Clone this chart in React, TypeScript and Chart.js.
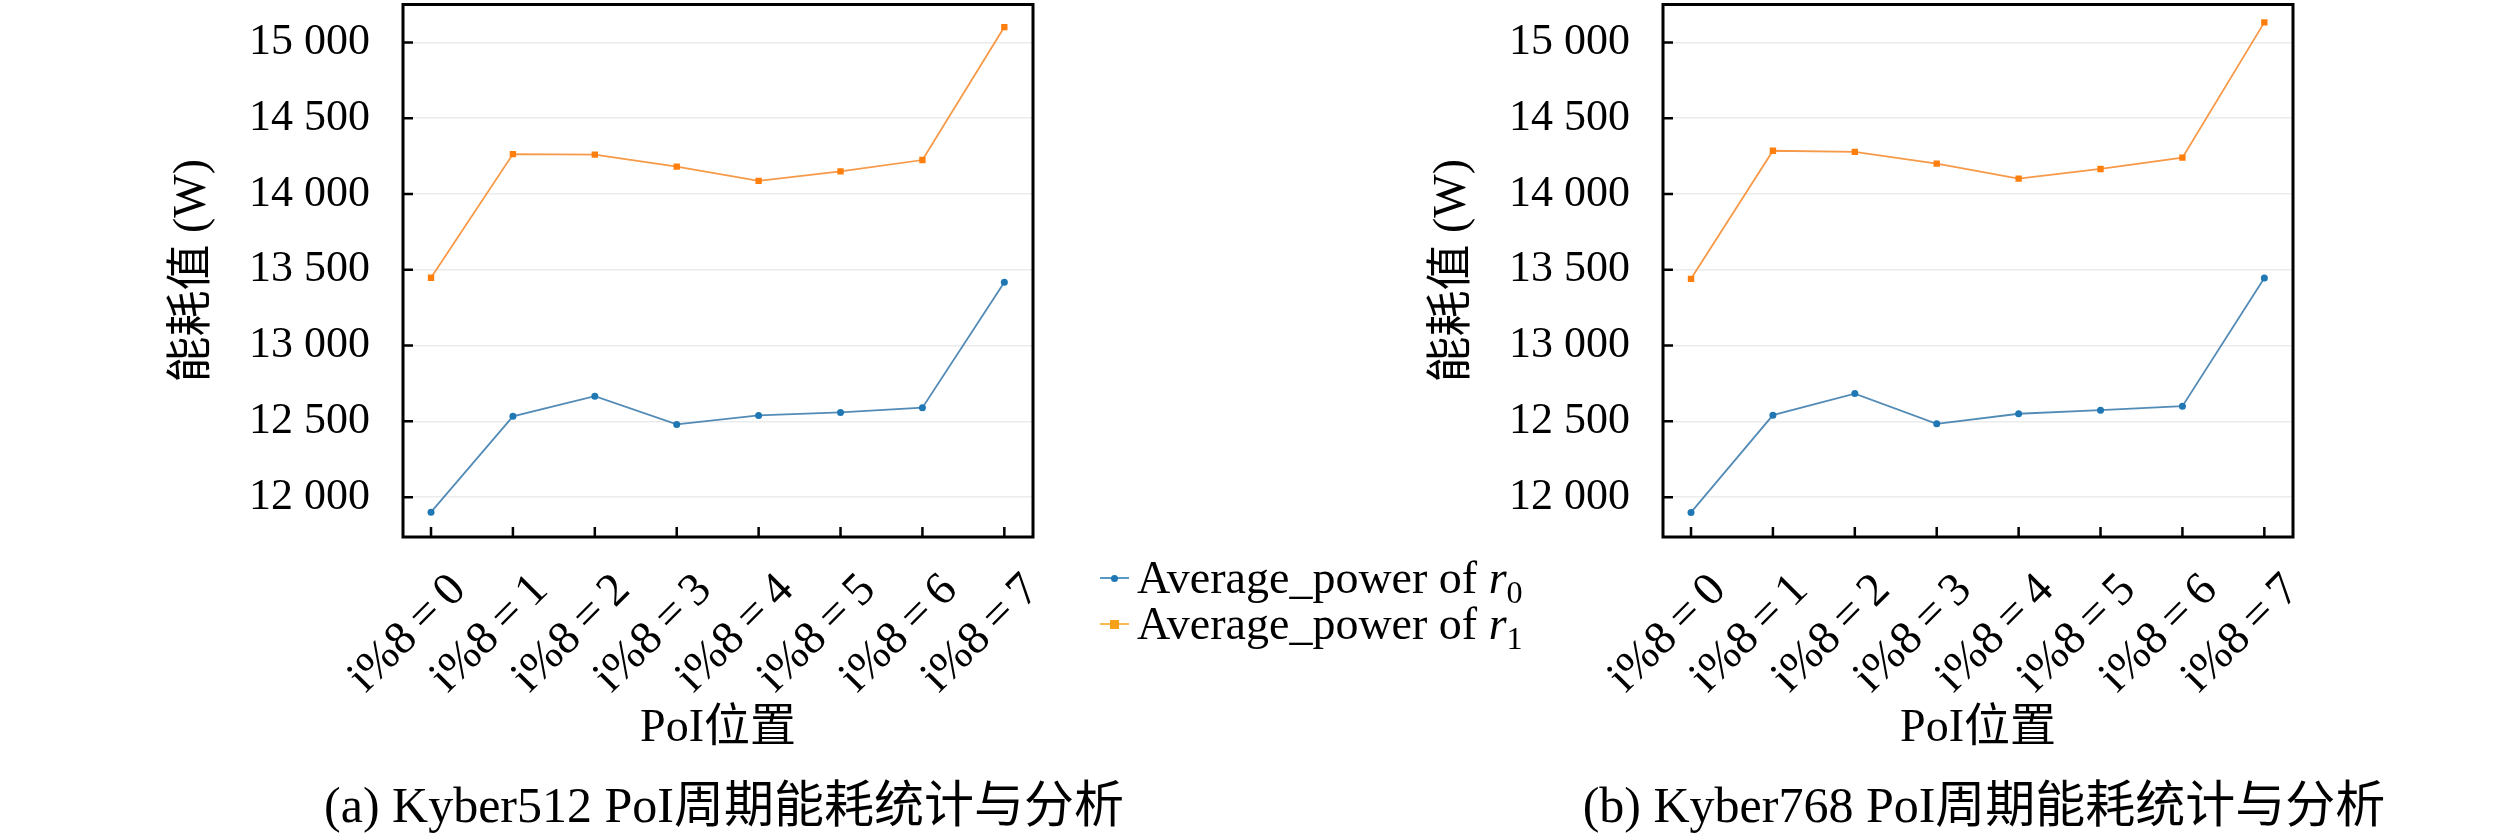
import { useEffect, useRef } from "react";
import { Chart, registerables } from "chart.js";

Chart.register(...registerables);

const categories = ["i%8\u2009=\u20090", "i%8\u2009=\u20091", "i%8\u2009=\u20092", "i%8\u2009=\u20093", "i%8\u2009=\u20094", "i%8\u2009=\u20095", "i%8\u2009=\u20096", "i%8\u2009=\u20097"];
const yTicks = [12000, 12500, 13000, 13500, 14000, 14500, 15000];
const yTickLabels = ["12 000", "12 500", "13 000", "13 500", "14 000", "14 500", "15 000"];
const seriesNames = ["Average_power of r0", "Average_power of r1"];

const kyber512R0 = [11901, 12533, 12666, 12480, 12539, 12559, 12590, 13417];
const kyber512R1 = [13447, 14263, 14260, 14180, 14086, 14149, 14224, 15101];
const kyber768R0 = [11899, 12541, 12683, 12484, 12550, 12574, 12600, 13445];
const kyber768R1 = [13440, 14285, 14278, 14200, 14101, 14165, 14240, 15132];

const FONT = "'Liberation Serif', 'Noto Sans CJK SC', serif";
const BLUE = "#1f77b4";
const ORANGE = "#ff7f0e";

// inward ticks + black frame around the plot area
const framePlugin = {
  id: "frame",
  afterDraw(chart: any) {
    const { ctx, chartArea: a, scales } = chart;
    ctx.save();
    ctx.strokeStyle = "#000";
    ctx.lineWidth = 2.5;
    ctx.beginPath();
    scales.y.ticks.forEach((t: any) => {
      const py = scales.y.getPixelForValue(t.value);
      ctx.moveTo(a.left, py);
      ctx.lineTo(a.left + 10, py);
    });
    scales.x.ticks.forEach((t: any) => {
      const px = scales.x.getPixelForValue(t.value);
      ctx.moveTo(px, a.bottom);
      ctx.lineTo(px, a.bottom - 10);
    });
    ctx.stroke();
    ctx.lineWidth = 3;
    ctx.strokeRect(a.left, a.top, a.right - a.left, a.bottom - a.top);
    ctx.restore();
  },
};

function Panel({ r0, r1, left }: { r0: number[]; r1: number[]; left: number }) {
  const canvasRef = useRef<HTMLCanvasElement>(null);

  useEffect(() => {
    if (!canvasRef.current) return;
    const chart = new Chart(canvasRef.current, {
      type: "line",
      data: {
        datasets: [
          {
            label: seriesNames[0],
            data: r0.map((v, i) => ({ x: i, y: v })),
            borderColor: "rgba(40,110,165,0.8)",
            backgroundColor: BLUE,
            borderWidth: 1.8,
            pointStyle: "circle",
            pointRadius: 3.5,
            pointBorderWidth: 0,
          },
          {
            label: seriesNames[1],
            data: r1.map((v, i) => ({ x: i, y: v })),
            borderColor: "rgba(245,135,40,0.85)",
            backgroundColor: ORANGE,
            borderWidth: 1.8,
            pointStyle: "rect",
            pointRadius: 4.5,
            pointBorderWidth: 0,
          },
        ],
      },
      options: {
        animation: false,
        responsive: true,
        maintainAspectRatio: false,
        layout: { padding: { left: 165, top: 3, right: 227, bottom: 3 } },
        plugins: { legend: { display: false }, tooltip: { enabled: false } },
        scales: {
          x: {
            type: "linear",
            min: -0.342,
            max: 7.35,
            grid: { display: false, drawTicks: false },
            border: { display: false },
            afterBuildTicks: (s: any) => {
              s.ticks = categories.map((_, i) => ({ value: i }));
            },
            afterFit: (s: any) => {
              s.height = 220;
              s.paddingLeft = 0;
              s.paddingRight = 0;
              s.paddingTop = 0;
              s.paddingBottom = 0;
            },
            ticks: {
              autoSkip: false,
              minRotation: 45,
              maxRotation: 45,
              padding: 26,
              labelOffset: 28,
              color: "#000",
              font: { family: FONT, size: 47 },
              callback: (v: any) => categories[v],
            },
            title: {
              display: true,
              text: "PoI位置",
              color: "#000",
              padding: 0,
              font: { family: FONT, size: 46, lineHeight: 1.2 },
            },
          },
          y: {
            min: 11737,
            max: 15250,
            grid: { color: "#ebebeb", lineWidth: 1.5, drawTicks: false },
            border: { display: false },
            afterBuildTicks: (s: any) => {
              s.ticks = yTicks.map((v) => ({ value: v }));
            },
            afterFit: (s: any) => {
              s.width = 238;
              s.paddingLeft = 0;
              s.paddingRight = 0;
              s.paddingTop = 0;
              s.paddingBottom = 0;
            },
            ticks: {
              padding: 33,
              color: "#000",
              font: { family: FONT, size: 44 },
              callback: (v: any) => yTickLabels[yTicks.indexOf(v)],
            },
            title: {
              display: true,
              text: "能耗值 (W)",
              color: "#000",
              padding: 0,
              font: { family: FONT, size: 46, lineHeight: 1.2 },
            },
          },
        },
      },
      plugins: [framePlugin],
    });
    return () => chart.destroy();
  }, [r0, r1]);

  return (
    <div style={{ position: "absolute", left, top: 0, width: 1260, height: 760 }}>
      <canvas ref={canvasRef} />
    </div>
  );
}

function LegendRow({ color, square, sub }: { color: string; square: boolean; sub: string }) {
  return (
    <div style={{ display: "flex", alignItems: "center", height: 46 }}>
      <div style={{ position: "relative", width: 29, height: 46, marginRight: 8 }}>
        <div style={{ position: "absolute", left: 0, right: 0, top: 22, height: 2, background: color, opacity: 0.75 }} />
        <div
          style={{
            position: "absolute",
            left: square ? 10 : 11,
            top: square ? 19 : 20,
            width: square ? 9 : 7,
            height: square ? 9 : 7,
            borderRadius: square ? 0 : "50%",
            background: color,
          }}
        />
      </div>
      <span>
        Average_power of <i>r</i>
        <sub style={{ fontSize: "0.7em", lineHeight: 0 }}>{sub}</sub>
      </span>
    </div>
  );
}

export default function App() {
  const caption = { position: "absolute" as const, top: 778, width: 1200, height: 54, lineHeight: "54px", textAlign: "center" as const, fontSize: 50 };
  return (
    <div style={{ position: "absolute", left: 0, top: 0, width: 2520, height: 833, background: "#fff", fontFamily: FONT, color: "#000" }}>
      <Panel r0={kyber512R0} r1={kyber512R1} left={0} />
      <Panel r0={kyber768R0} r1={kyber768R1} left={1260} />
      <div style={{ position: "absolute", left: 1100, top: 555, fontSize: 46, lineHeight: "46px" }}>
        <LegendRow color={BLUE} square={false} sub="0" />
        <LegendRow color="#f7a11a" square={true} sub="1" />
      </div>
      <div style={{ ...caption, left: 124 }}>(a) Kyber512 PoI周期能耗统计与分析</div>
      <div style={{ ...caption, left: 1384 }}>(b) Kyber768 PoI周期能耗统计与分析</div>
    </div>
  );
}
